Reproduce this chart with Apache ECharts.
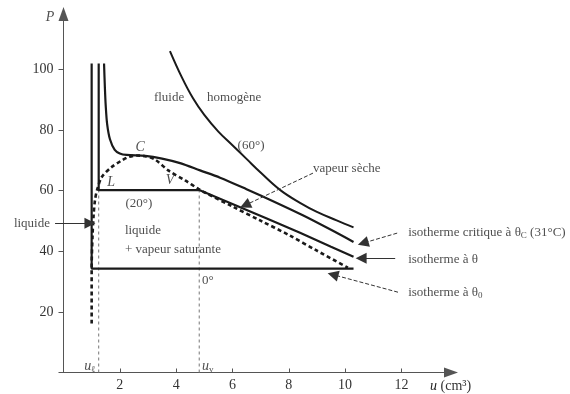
<!DOCTYPE html>
<html><head><meta charset="utf-8">
<script src="https://cdn.jsdelivr.net/npm/echarts@6/dist/echarts.min.js"></script>
<style>html,body{margin:0;padding:0;background:#fff}#c{width:570px;height:394px}</style>
</head><body><div id="c"></div>
<script>
// ---- data (u in cm3, P) ----
const xTicks = [2, 4, 6, 8, 10, 12];
const yTicks = [20, 40, 60, 80, 100];
const iso0 = [[1.0,102],[1.0,34.3],[10.3,34.3]];
const iso20 = [[1.25,102],[1.25,60.2],[4.82,60.2],[6.0,55.6],[7.2,50.9],[8.4,46.1],[9.5,41.5],[10.3,38.2]];
const isoCrit = [[1.44,102],[1.47,94],[1.5,88],[1.55,82],[1.65,77],[1.82,73.5],[2.0,72.3],[2.24,71.8],[2.9,71.5],[3.5,70.6],[4.14,69.1],[4.85,66.7],[5.56,64.3],[6.5,60.5],[7.5,56.3],[8.5,51.9],[9.5,47.1],[10.3,43.1]];
const iso60 = [[3.78,106.1],[4.2,97.5],[4.6,90.5],[5.0,85],[5.5,79.5],[6.0,75],[6.5,70.5],[7.0,66],[7.7,60.2],[8.4,56],[9.0,53],[9.7,50.2],[10.3,47.9]];
const dome = [[1.0,16.2],[1.0,34.3],[1.03,45],[1.07,52],[1.12,57],[1.2,60.5],[1.36,64.5],[1.71,67.8],[2.07,70],[2.3,71.1],[2.6,71.6],[2.9,71.4],[3.25,70.3],[3.72,66.7],[4.32,63.4],[4.79,60.6],[5.0,59.5],[6.0,54.8],[7.0,50.1],[8.0,45.4],[9.0,40.2],[10.1,34.6]];
const uL = [[1.25,0],[1.25,60.2]];
const uV = [[4.82,0],[4.82,60.2]];

// ---- annotations ----
const texts = [
  {t:'{i|P}', at:[-0.48,117.1], a:'center', fs:15},
  {t:'fluide', at:[3.75,90.8], a:'center'},
  {t:'homogène', at:[6.06,90.8], a:'center'},
  {t:'(60°)', at:[6.66,74.9], a:'center'},
  {t:'{i|C}', at:[2.72,74.3], a:'center'},
  {t:'{i|L}', at:[1.69,62.8], a:'center'},
  {t:'{i|V}', at:[3.78,63.4], a:'center'},
  {t:'(20°)', at:[2.68,55.9], a:'center'},
  {t:'liquide', at:[2.18,47.0], a:'left'},
  {t:'+ vapeur saturante', at:[2.18,40.6], a:'left'},
  {t:'0°', at:[4.92,30.5], a:'left'},
  {t:'vapeur sèche', at:[8.86,67.4], a:'left'},
  {t:'liquide', at:[-0.48,49.3], a:'right'},
  {t:'{i|u}{s|ℓ}', at:[1.14,2.1], a:'right', fs:11},
  {t:'{i|u}{s|v}', at:[4.92,2.1], a:'left', fs:11},
  {t:'isotherme critique à θ{s|C} (31°C)', at:[12.24,46.3], a:'left'},
  {t:'isotherme à θ', at:[12.24,37.4], a:'left'},
  {t:'isotherme à θ{s|0}', at:[12.24,26.5], a:'left'}
];
const arrows = [
  {c:[[-0.30,49.3],[0.94,49.3]], d:'solid'},
  {c:[[8.86,65.8],[6.45,55.2]], d:'dashed'},
  {c:[[11.85,46.0],[10.64,42.7]], d:'dashed'},
  {c:[[11.78,37.7],[10.57,37.7]], d:'solid'},
  {c:[[11.88,26.5],[9.57,32.3]], d:'dashed'}
];

const FONT = 'Liberation Serif';
const INK = '#1a1a1a';
const chart = echarts.init(document.getElementById('c'), null, {renderer:'canvas'});

function curve(d, w, smooth, type){
  return {type:'line', data:d, showSymbol:false, symbol:'none', smooth:smooth, silent:true,
    lineStyle:{color:INK, width:w, type:type||'solid'}, z:3};
}
const rich = {
  i:{fontStyle:'italic', fontFamily:FONT, fontSize:14, color:'#222'},
  s:{fontFamily:FONT, fontSize:9, color:'#222', padding:[7,0,0,0]}
};

chart.setOption({
  animation:false,
  backgroundColor:'#fff',
  grid:{left:63.5, right:123, top:18, bottom:21.5, containLabel:false},
  xAxis:{type:'value', min:0, max:13.62, interval:2,
    axisLine:{lineStyle:{color:'#555', width:1}, symbol:['none','triangle'], symbolSize:[10,14], symbolOffset:[0,4]},
    axisTick:{inside:true, length:4, lineStyle:{color:'#555'}},
    splitLine:{show:false},
    axisLabel:{margin:6, fontFamily:FONT, fontSize:14, color:'#333', showMaxLabel:false,
      formatter:v => xTicks.indexOf(v) >= 0 ? String(v) : ''},
    name:'{i|u} (cm³)', nameLocation:'end', nameGap:-17,
    nameTextStyle:{fontFamily:FONT, fontSize:14, color:'#333', align:'left', verticalAlign:'top', padding:[7,0,0,0], rich:rich}
  },
  yAxis:{type:'value', min:0, max:117, interval:20,
    axisLine:{lineStyle:{color:'#555', width:1}, symbol:['none','triangle'], symbolSize:[10,14], symbolOffset:[0,4]},
    axisTick:{inside:false, length:5, lineStyle:{color:'#555'}},
    splitLine:{show:false},
    axisLabel:{margin:10, fontFamily:FONT, fontSize:14, color:'#333', showMaxLabel:false,
      formatter:v => yTicks.indexOf(v) >= 0 ? String(v) : ''}
  },
  series:[
    curve(iso0, 2.2, false),
    curve(iso20, 2.2, false),
    curve(isoCrit, 2.2, 0.3),
    curve(iso60, 2, 0.4),
    curve(dome, 2.6, 0.3, [4,3]),
    {type:'line', data:uL, showSymbol:false, symbol:'none', silent:true, lineStyle:{color:'#777', width:1, type:[3,3]}, z:2},
    {type:'line', data:uV, showSymbol:false, symbol:'none', silent:true, lineStyle:{color:'#777', width:1, type:[3,3]}, z:2},
    {type:'lines', coordinateSystem:'cartesian2d', clip:false, silent:true, z:4,
      symbol:['none','triangle'], symbolSize:11,
      data:arrows.map(a => ({coords:a.c, lineStyle:{type:a.d}})),
      lineStyle:{color:'#333', width:1, opacity:1}},
    {type:'scatter', clip:false, symbolSize:0, silent:true, z:5,
      data:texts.map(o => ({value:o.at, label:{show:true, position:'inside', formatter:o.t, align:o.a,
        verticalAlign:'middle', fontFamily:FONT, fontSize:o.fs||13, color:'#222', rich:rich}}))}
  ]
});
</script></body></html>
